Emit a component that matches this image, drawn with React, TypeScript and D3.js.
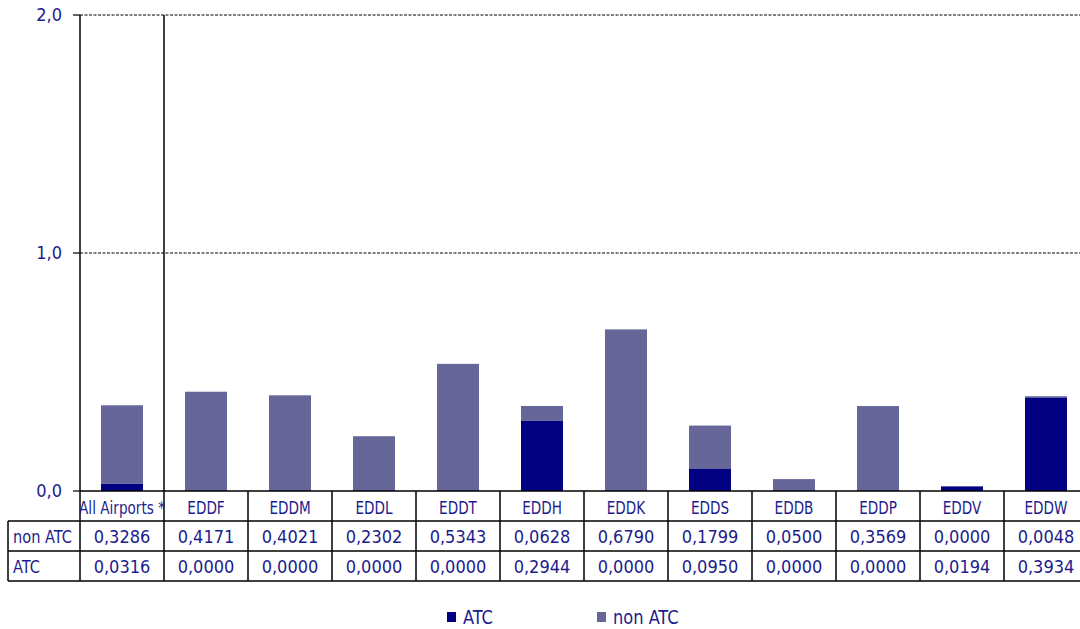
import React from "react";
import * as d3 from "d3";

const categories = ["All Airports *", "EDDF", "EDDM", "EDDL", "EDDT", "EDDH", "EDDK", "EDDS", "EDDB", "EDDP", "EDDV", "EDDW"];
const nonAtc = [0.3286, 0.4171, 0.4021, 0.2302, 0.5343, 0.0628, 0.679, 0.1799, 0.05, 0.3569, 0.0, 0.0048];
const atc = [0.0316, 0, 0, 0, 0, 0.2944, 0, 0.095, 0, 0, 0.0194, 0.3934];
const yTicks = [0, 1, 2];

const W = 1080;
const H = 629;
const FONT = "'DejaVu Sans Condensed', 'DejaVu Sans', sans-serif";
const TEXT = "#1c1c8c";
const C_ATC = "#000080";
const C_NON = "#666699";

const fmt = (v: number, d: number) => v.toFixed(d).replace(".", ",");

function Label({ x, y, s, anchor, size = 18, children }: { x: number; y: number; s: number; anchor: string; size?: number; children: React.ReactNode }) {
  return (
    <text transform={`translate(${x},${y}) scale(${s},1)`} textAnchor={anchor} fontSize={size} fill={TEXT}>
      {children}
    </text>
  );
}

export default function App() {
  const left = 80;
  const step = 84;
  const x = d3
    .scaleBand<string>()
    .domain(categories)
    .range([left, left + step * categories.length])
    .paddingInner(0.5)
    .paddingOuter(0.25);
  const y = d3.scaleLinear().domain([0, 2]).range([491, 15]);
  const xRight = left + step * categories.length;
  const rowTop = 491;
  const row1 = 521;
  const row2 = 551;
  const row3 = 581;
  const colEdge = (i: number) => left + i * step;

  return (
    <svg width={W} height={H} style={{ position: "absolute", left: 0, top: 0, background: "#fff" }} fontFamily={FONT}>
      {yTicks.filter((t) => t > 0).map((t) => (
        <line key={t} x1={left} x2={xRight} y1={y(t)} y2={y(t)} stroke="#000" strokeWidth={1} strokeDasharray="3,1.5" />
      ))}
      {yTicks.map((t) => (
        <g key={"t" + t}>
          <line x1={73} x2={left} y1={y(t)} y2={y(t)} stroke="#000" strokeWidth={1.2} />
          <text x={62} y={y(t) + 6} textAnchor="end" fontSize={18} fill={TEXT}>
            {fmt(t, 1)}
          </text>
        </g>
      ))}
      {categories.map((c, i) => {
        const x0 = x(c)!;
        const bw = x.bandwidth();
        const a = atc[i];
        const n = nonAtc[i];
        return (
          <g key={c}>
            {a > 0 && <rect x={x0} y={y(a)} width={bw} height={y(0) - y(a)} fill={C_ATC} />}
            {n > 0 && <rect x={x0} y={y(a + n)} width={bw} height={y(a) - y(a + n)} fill={C_NON} />}
          </g>
        );
      })}
      <line x1={left} x2={left} y1={15} y2={row3} stroke="#000" strokeWidth={1.5} />
      <line x1={colEdge(1)} x2={colEdge(1)} y1={15} y2={row1} stroke="#000" strokeWidth={1.5} />
      <line x1={left} x2={xRight} y1={rowTop} y2={rowTop} stroke="#000" strokeWidth={1.5} />
      <line x1={8} x2={xRight} y1={row1} y2={row1} stroke="#000" strokeWidth={1.5} />
      <line x1={8} x2={xRight} y1={row2} y2={row2} stroke="#000" strokeWidth={1.5} />
      <line x1={8} x2={xRight} y1={row3} y2={row3} stroke="#000" strokeWidth={1.5} />
      <line x1={8} x2={8} y1={row1} y2={row3} stroke="#000" strokeWidth={1.5} />
      {categories.map((c, i) =>
        i >= 1 ? (
          <line key={"v" + c} x1={colEdge(i + 1)} x2={colEdge(i + 1)} y1={rowTop} y2={row3} stroke="#000" strokeWidth={1.5} />
        ) : null
      )}
      <line x1={colEdge(1)} x2={colEdge(1)} y1={row1} y2={row3} stroke="#000" strokeWidth={1.5} />
      {categories.map((c, i) => {
        const cx = x(c)! + x.bandwidth() / 2;
        return (
          <g key={"lbl" + c}>
            <Label x={cx} y={514} s={0.84} anchor="middle">{c}</Label>
            <text x={cx} y={543} textAnchor="middle" fontSize={18} fill={TEXT}>
              {fmt(nonAtc[i], 4)}
            </text>
            <text x={cx} y={573} textAnchor="middle" fontSize={18} fill={TEXT}>
              {fmt(atc[i], 4)}
            </text>
          </g>
        );
      })}
      <Label x={13} y={543} s={0.9} anchor="start">non ATC</Label>
      <Label x={13} y={573} s={0.9} anchor="start">ATC</Label>
      <rect x={447} y={612} width={9} height={10} fill={C_ATC} />
      <Label x={463} y={624} s={0.95} size={19} anchor="start">ATC</Label>
      <rect x={597} y={612} width={9} height={10} fill={C_NON} />
      <Label x={613} y={624} s={0.95} size={19} anchor="start">non ATC</Label>
    </svg>
  );
}
